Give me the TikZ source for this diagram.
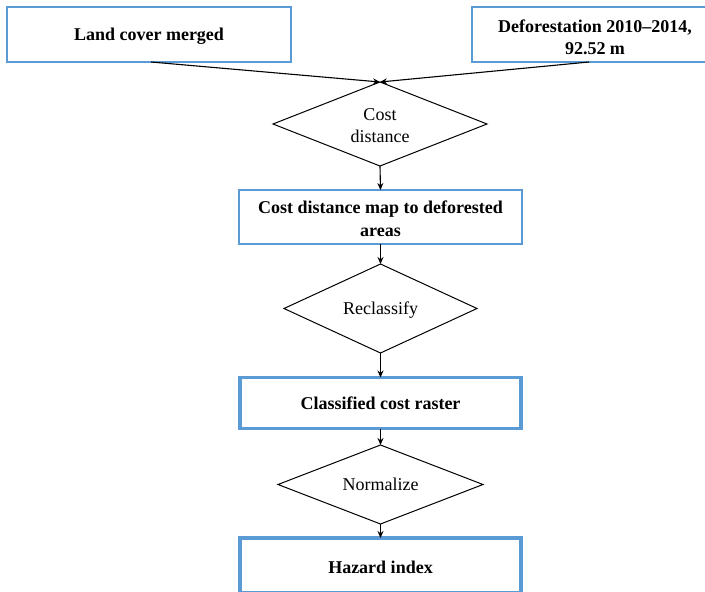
\documentclass[tikz,border=0pt]{standalone}
\usepackage{fontspec}
\setmainfont{Liberation Serif}
\usetikzlibrary{shapes.geometric,arrows.meta}
\definecolor{boxblue}{HTML}{5B9BD5}
\tikzset{
  labeltext/.style={font=\fontsize{18}{22}\selectfont, align=center, inner sep=0pt},
  boldtext/.style={labeltext, font=\fontsize{18}{22.5}\selectfont\bfseries},
  databox/.style={draw=boxblue, line width=1.2pt, fill=white, inner sep=0pt, outer sep=0pt},
  resultbox/.style={databox, line width=3.5pt},
  process/.style={draw=black, line width=1pt, diamond, inner sep=0pt, outer sep=0pt, fill=white},
  arr/.style={draw=black, line width=1.1pt, -{Stealth[length=7pt,width=6pt]}}
}
\begin{document}
\begin{tikzpicture}[x=1pt,y=-1pt]
  \useasboundingbox[fill=white] (0,0) rectangle (705,592);

  % inputs
  \node[databox, minimum width=284pt, minimum height=55pt] (land) at (149,34.5) {};
  \node[boldtext] (landtxt) at ([yshift=-2pt]land.center) {Land cover merged};
  \node[databox, minimum width=246pt, minimum height=55pt] (defor) at (595,34.5) {};
  \node[boldtext] (defortxt) at ([yshift=-3pt]defor.center) {Deforestation 2010--2014,\\92.52 m};

  % cost distance step
  \node[process, minimum width=214pt, minimum height=84pt] (cost) at (380,124) {};
  \node[labeltext] (costtxt) at ([yshift=-2pt]cost.center) {Cost\\distance};
  \node[databox, minimum width=283pt, minimum height=54pt] (costmap) at (380.5,217) {};
  \node[boldtext] (costmaptxt) at ([yshift=-1.5pt]costmap.center) {Cost distance map to deforested\\areas};

  % reclassification
  \node[process, minimum width=193pt, minimum height=89pt] (recl) at (380.5,308.5) {};
  \node[labeltext] (recltxt) at ([yshift=-1.5pt]recl.center) {Reclassify};
  \node[resultbox, minimum width=281pt, minimum height=51pt] (classed) at (380.5,403) {};
  \node[boldtext] (classedtxt) at (classed.center) {Classified cost raster};

  % normalisation
  \node[process, minimum width=205pt, minimum height=79pt] (norm) at (380.5,484.5) {};
  \node[labeltext] (normtxt) at (norm.center) {Normalize};
  \node[resultbox, minimum width=281pt, minimum height=55pt] (hazard) at (380.5,565.5) {};
  \node[boldtext] (hazardtxt) at ([yshift=-1.5pt]hazard.center) {Hazard index};

  % connectors
  \draw[arr] ([xshift=2pt]land.south) -- (cost.north);
  \draw[arr] ([xshift=-6pt]defor.south) -- (cost.north);
  \draw[arr] (cost.south) -- (costmap.north);
  \draw[arr] (costmap.south) -- (recl.north);
  \draw[arr] (recl.south) -- (classed.north);
  \draw[arr] (classed.south) -- (norm.north);
  \draw[arr] (norm.south) -- (hazard.north);
\end{tikzpicture}
\end{document}
